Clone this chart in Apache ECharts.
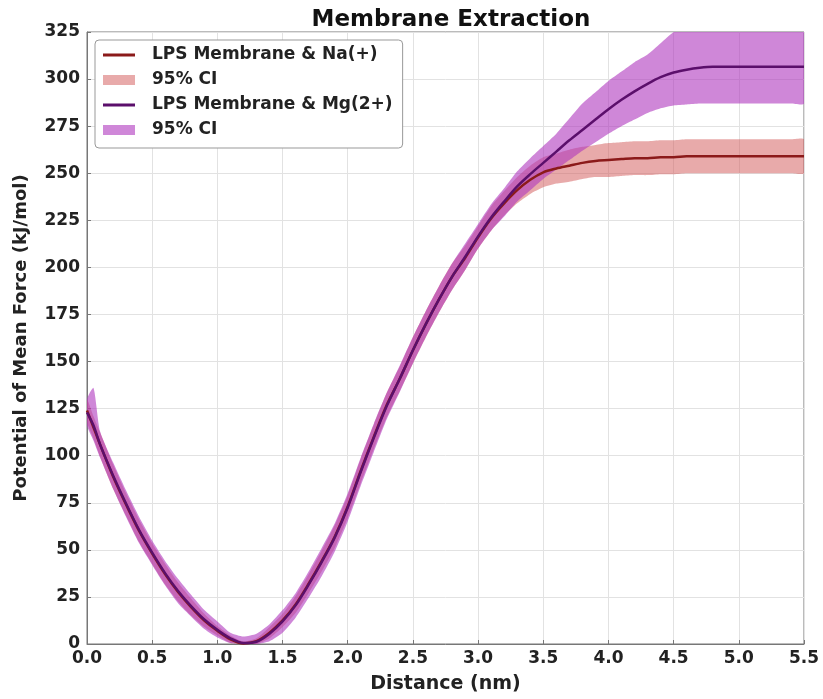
<!DOCTYPE html>
<html>
<head>
<meta charset="utf-8">
<script src="https://cdn.jsdelivr.net/npm/echarts@6/dist/echarts.min.js"></script>
<style>
html,body{margin:0;padding:0;background:#fff;}
#chart{width:823px;height:699px;}
</style>
</head>
<body>
<div id="chart"></div>
<script>
// distance (nm)
var distance = [0, 0.05, 0.1, 0.2, 0.3, 0.4, 0.5, 0.6, 0.7, 0.8, 0.9, 1.0, 1.1,
  1.2, 1.3, 1.4, 1.5, 1.6, 1.7, 1.8, 1.9,
  2.0, 2.1, 2.2, 2.3, 2.4, 2.5, 2.6, 2.7, 2.8, 2.9,
  3.0, 3.1, 3.2, 3.3, 3.4, 3.5, 3.6, 3.7, 3.8, 3.9,
  4.0, 4.1, 4.2, 4.3, 4.4, 4.5, 4.6, 4.7, 4.8, 4.9,
  5.0, 5.1, 5.2, 5.3, 5.4, 5.5];

// LPS Membrane & Na(+)
var naMean = [124, 115, 106, 89, 74, 60, 48, 37, 27.5, 19.5, 12.5, 7, 2.5,
  0.3, 1.5, 6, 12.5, 21, 32, 44, 57,
  73, 92, 110, 127, 141, 156, 170, 183, 195, 205,
  216, 226, 234, 241, 246.5, 250.5, 252.5, 254, 255.5, 256.5,
  257, 257.5, 258, 258, 258.5, 258.5, 259, 259, 259, 259,
  259, 259, 259, 259, 259, 259];
var naLow = [118, 109, 99.5, 82.5, 68, 54, 42.5, 31.5, 22.5, 15, 9, 4.5, 0.5,
  0, 0, 3, 9, 16.5, 27, 38.5, 51,
  67, 85.5, 103.5, 120.5, 134.5, 149, 163, 176, 188, 198.5,
  210, 219.5, 227.5, 234, 239, 242.5, 244.5, 245.5, 247, 248,
  248, 248.5, 249, 249, 249.5, 249.5, 250, 250, 250, 250,
  250, 250, 250, 250, 250, 250];
var naHigh = [130, 121, 112.5, 95.5, 80, 66, 53.5, 42.5, 32.5, 24, 16, 9.5, 4.5,
  1.3, 3, 9, 16, 25.5, 37, 49.5, 63,
  79, 98.5, 116.5, 133.5, 147.5, 163, 177, 190, 202, 211.5,
  222, 232.5, 240.5, 248, 254, 258.5, 260.5, 262.5, 264, 265,
  266, 266.5, 267, 267, 267.5, 267.5, 268, 268, 268, 268,
  268, 268, 268, 268, 268, 268];

// LPS Membrane & Mg(2+)
var mgMean = [123, 116, 106, 89.5, 74.5, 60.5, 48.5, 37.5, 28, 20, 13, 7.5, 3,
  0.5, 1.2, 5.5, 12, 20.5, 31.5, 43.5, 56.5,
  72.5, 91.5, 109.5, 126.5, 141, 156, 170, 183, 195, 205.5,
  216.5, 226.5, 235, 243, 249.5, 255.5, 261.5, 267.5, 273, 278.5,
  284, 289, 293.5, 297.5, 301, 303.5, 305, 306, 306.5, 306.5,
  306.5, 306.5, 306.5, 306.5, 306.5, 306.5];
var mgLow = [116, 108, 99, 82.5, 67.5, 53.5, 42, 31, 21.5, 14.5, 8, 3.5, 0.5,
  0, 0, 1.5, 6, 14, 24.5, 36, 49,
  65, 84, 102, 119.5, 134, 149, 163, 176, 188, 198.5,
  210, 219.5, 227, 235, 241, 247, 252, 257, 262, 266.5,
  271, 275, 278.5, 282, 284.5, 286, 286.5, 287, 287, 287,
  287, 287, 287, 287, 287, 287];
var mgHigh = [130, 136, 113, 96.5, 81.5, 67.5, 55, 44, 34.5, 26, 18, 12, 6,
  4, 5.5, 10.5, 18, 27, 38.5, 51, 64,
  80, 99, 117, 133.5, 148, 163, 177, 190, 202, 212.5,
  223, 233.5, 242, 251, 258, 264.5, 271, 279, 287, 293,
  299, 304, 309, 313, 319, 325, 328, 330, 330, 330,
  330, 330, 330, 330, 330, 330];

var legendNames = ['LPS Membrane & Na(+)', '95% CI ', 'LPS Membrane & Mg(2+)', '95% CI  '];

var C = {
  naLine: '#8b1a1a', naBand: 'rgba(210,85,85,0.5)',
  mgLine: '#5b0f6b', mgBand: 'rgba(175,55,190,0.6)'
};
var FONT = 'DejaVu Sans';
var SM = 0.3;

function pairs(xs, ys) { return xs.map(function (x, i) { return [x, ys[i]]; }); }
function triples(xs, lo, hi) { return xs.map(function (x, i) { return [x, lo[i], hi[i]]; }); }

function bandSeries(name, data, color) {
  return {
    name: name, type: 'custom', data: data, clip: true, silent: true, z: 1,
    itemStyle: { color: color },
    encode: { x: 0, y: [1, 2] },
    renderItem: function (params, api) {
      if (params.dataIndex !== 0) return null;
      var top = [], bottom = [];
      for (var i = 0; i < data.length; i++) {
        top.push(api.coord([data[i][0], data[i][2]]));
        bottom.push(api.coord([data[i][0], data[i][1]]));
      }
      var pts = top.concat(bottom.reverse());
      return {
        type: 'polygon',
        shape: { points: pts, smooth: 0.2 },
        style: { fill: color, stroke: null }
      };
    }
  };
}
function lineSeries(name, data, color) {
  return { name: name, type: 'line', data: data, symbol: 'none', smooth: SM,
    itemStyle: { color: color }, lineStyle: { color: color, width: 2.5 }, z: 3 };
}

var chart = echarts.init(document.getElementById('chart'), null, { renderer: 'canvas' });
chart.setOption({
  animation: false,
  backgroundColor: '#fff',
  title: {
    text: 'Membrane Extraction', left: 446, textAlign: 'center', top: 4,
    textStyle: { fontFamily: FONT, fontWeight: 'bold', fontSize: 23, color: '#111' }
  },
  grid: { left: 87, right: 19, top: 32, bottom: 53, show: true, borderColor: '#777', borderWidth: 1, containLabel: false },
  legend: {
    orient: 'vertical', left: 95, top: 40,
    data: [
      { name: legendNames[0], icon: 'path://M0,0L32,0L32,3L0,3Z', itemStyle: { color: C.naLine } },
      { name: legendNames[1], icon: 'rect', itemStyle: { color: C.naBand } },
      { name: legendNames[2], icon: 'path://M0,0L32,0L32,3L0,3Z', itemStyle: { color: C.mgLine } },
      { name: legendNames[3], icon: 'rect', itemStyle: { color: C.mgBand } }
    ],
    itemWidth: 32, itemHeight: 10, itemGap: 7,
    padding: [6, 10, 9, 8],
    backgroundColor: '#fff', borderColor: '#999', borderWidth: 1, borderRadius: 4,
    textStyle: { fontFamily: FONT, fontWeight: 'bold', fontSize: 17, color: '#222', padding: [0, 0, 0, 12], lineHeight: 18 },
    selectedMode: false
  },
  xAxis: {
    type: 'value', min: 0, max: 5.5, interval: 0.5,
    name: 'Distance (nm)', nameLocation: 'middle', nameGap: 31,
    nameTextStyle: { fontFamily: FONT, fontWeight: 'bold', fontSize: 19, color: '#222' },
    axisLine: { show: true, onZero: false, lineStyle: { color: '#777' } },
    axisTick: { show: true, inside: true, length: 4, lineStyle: { color: '#777' } },
    axisLabel: { fontFamily: FONT, fontWeight: 'bold', fontSize: 17, color: '#222', margin: 6,
      formatter: function (v) { return v.toFixed(1); } },
    splitLine: { show: true, lineStyle: { color: '#e2e2e2', width: 1 } }
  },
  yAxis: {
    type: 'value', min: 0, max: 325, interval: 25,
    name: 'Potential of Mean Force (kJ/mol)', nameLocation: 'middle', nameGap: 57,
    nameTextStyle: { fontFamily: FONT, fontWeight: 'bold', fontSize: 18, color: '#222' },
    axisLine: { show: true, lineStyle: { color: '#777' } },
    axisTick: { show: true, inside: true, length: 4, lineStyle: { color: '#777' } },
    axisLabel: { fontFamily: FONT, fontWeight: 'bold', fontSize: 17, color: '#222', margin: 7 },
    splitLine: { show: true, lineStyle: { color: '#e2e2e2', width: 1 } }
  },
  series: [
    bandSeries(legendNames[1], triples(distance, naLow, naHigh), C.naBand),
    bandSeries(legendNames[3], triples(distance, mgLow, mgHigh), C.mgBand),
    lineSeries(legendNames[0], pairs(distance, naMean), C.naLine),
    lineSeries(legendNames[2], pairs(distance, mgMean), C.mgLine)
  ]
});
</script>
</body>
</html>
